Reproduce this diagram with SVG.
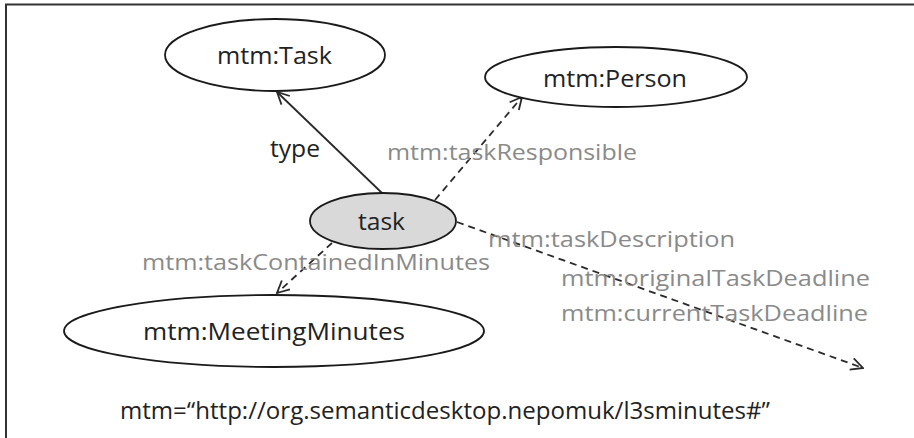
<svg xmlns="http://www.w3.org/2000/svg" width="914" height="438" viewBox="0 0 914 438">
<style>
.node{fill:#fff;stroke:#1a1a1a;stroke-width:1.8}
.sel{fill:#d9d9d9}
.lbl{font-family:"Open Sans","Liberation Sans",sans-serif;font-size:23px;fill:#222}
.prop{font-family:"Open Sans","Liberation Sans",sans-serif;font-size:22px;fill:#8a8a8a}
.edge{fill:none;stroke:#2a2a2a;stroke-width:1.8;marker-end:url(#arr)}
.dash{stroke-dasharray:7 5}
</style>
<defs>
<marker id="arr" viewBox="0 0 14 14" refX="13" refY="7" markerWidth="14" markerHeight="14" markerUnits="userSpaceOnUse" orient="auto">
<path d="M1,1 L13,7 L1,13" fill="none" stroke="#2a2a2a" stroke-width="1.8"/>
</marker>
</defs>
<rect width="914" height="438" fill="#fff"/>
<path d="M6,438 V4.5 H914" fill="none" stroke="#333" stroke-width="2"/>
<g id="connectors">
<line class="edge" x1="382" y1="193" x2="277" y2="92"/>
<line class="edge dash" x1="435" y1="200" x2="522" y2="97"/>
<line class="edge dash" x1="457" y1="222" x2="863" y2="368"/>
<line class="edge dash" x1="332" y1="243" x2="277" y2="293"/>
</g>
<g id="node-task-class">
<ellipse class="node" cx="275" cy="55" rx="110" ry="36"/>
<text class="lbl" x="217" y="64" font-size="22" textLength="115" lengthAdjust="spacingAndGlyphs">mtm:Task</text>
</g>
<g id="node-person">
<ellipse class="node" cx="616" cy="77" rx="131" ry="30"/>
<text class="lbl" x="543" y="87" textLength="144" lengthAdjust="spacingAndGlyphs">mtm:Person</text>
</g>
<g id="node-task">
<ellipse class="node sel" cx="383" cy="221" rx="73" ry="28"/>
<text class="lbl" x="358" y="230" textLength="47" lengthAdjust="spacingAndGlyphs">task</text>
</g>
<g id="node-minutes">
<ellipse class="node" cx="274" cy="331" rx="210" ry="36"/>
<text class="lbl" x="143" y="340" textLength="262" lengthAdjust="spacingAndGlyphs">mtm:MeetingMinutes</text>
</g>
<g id="labels">
<text class="lbl" x="270" y="157" font-size="22" textLength="50" lengthAdjust="spacingAndGlyphs">type</text>
<text class="prop" x="387" y="160" textLength="250" lengthAdjust="spacingAndGlyphs">mtm:taskResponsible</text>
<text class="prop" x="142" y="270" textLength="348" lengthAdjust="spacingAndGlyphs">mtm:taskContainedInMinutes</text>
<text class="prop" x="488" y="247" textLength="247" lengthAdjust="spacingAndGlyphs">mtm:taskDescription</text>
<text class="prop" x="561" y="286" textLength="309" lengthAdjust="spacingAndGlyphs">mtm:originalTaskDeadline</text>
<text class="prop" x="561" y="321" textLength="307" lengthAdjust="spacingAndGlyphs">mtm:currentTaskDeadline</text>
<text class="lbl" x="120" y="419" textLength="650" lengthAdjust="spacingAndGlyphs">mtm=“http://org.semanticdesktop.nepomuk/l3sminutes#”</text>
</g>
</svg>
